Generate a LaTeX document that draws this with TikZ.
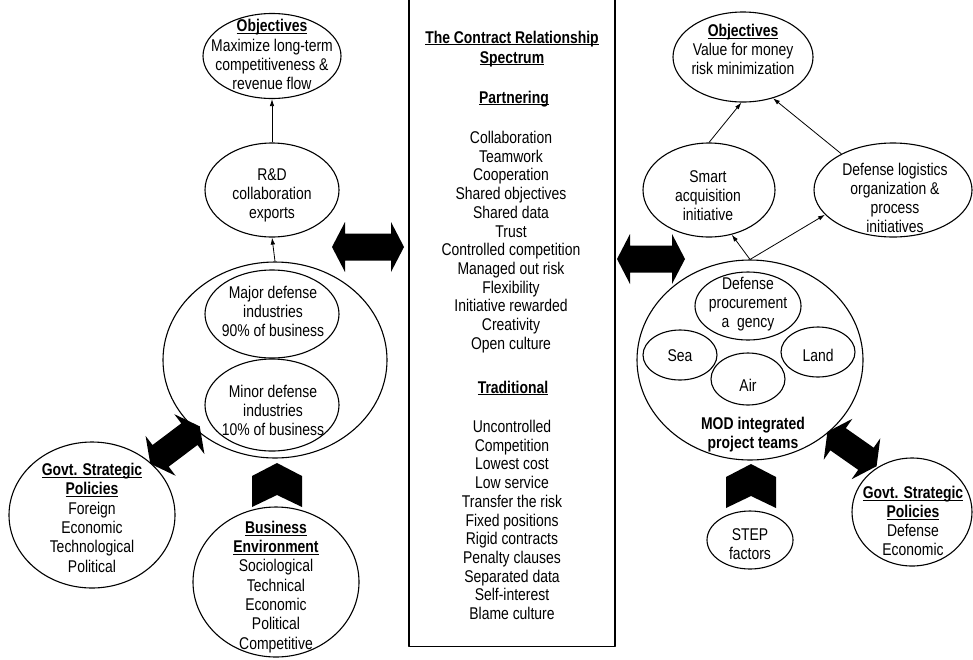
\documentclass[tikz,border=0pt]{standalone}
\usepackage{fontspec}
\setmainfont{Liberation Sans}[FakeStretch=0.82]
\usetikzlibrary{shapes.geometric,arrows.meta}
% bold, underlined heading inside the ellipses and the spectrum box
\newcommand\uhead[1]{\underline{\smash{\textbf{#1}}}}

\tikzset{
  ell/.style={draw, ellipse, inner sep=0pt, line width=1.1pt},
  txt/.style={align=center, inner sep=0pt, font={\fontsize{17}{19}\selectfont}},
  lst/.style={txt, font={\fontsize{17}{18.7}\selectfont}},
  wide/.style={txt, font={\fontsize{17}{19.3}\selectfont}},
  arr/.style={-{Latex[length=7pt,width=4.5pt]}, line width=0.8pt},
  % solid double-headed block arrow, #1 = half length
  pics/dblarrow/.style={code={
    \fill ({-#1},0) -- ({-#1+13},-25) -- ({-#1+13},-13.5) -- ({#1-13},-13.5)
      -- ({#1-13},-25) -- ({#1},0) -- ({#1-13},25) -- ({#1-13},13.5)
      -- ({-#1+13},13.5) -- ({-#1+13},25) -- cycle;}},
  % solid upward chevron
  pics/chevup/.style={code={
    \fill (0,-22) -- (25,-9) -- (25,22) -- (0,10) -- (-25,22) -- (-25,-9) -- cycle;}}
}

\begin{document}
\begin{tikzpicture}[x=1pt, y=-1pt, line join=round]
\useasboundingbox (0,0) rectangle (973,659);

% ---------- centre: the contract relationship spectrum ----------
\node[draw, line width=1.5pt, minimum width=206pt, minimum height=670pt,
      inner sep=0pt, anchor=south west] (spec) at (408,647) {};
\node[txt, font={\fontsize{17}{20}\selectfont}] (spec-title) at (512,54)
  {\uhead{The Contract Relationship}\\\uhead{Spectrum}};
\node[txt] (spec-part) at (514,104) {\uhead{Partnering}};
\node[lst] (spec-plist) at (511,242) {Collaboration\\Teamwork\\Cooperation\\Shared objectives\\
  Shared data\\Trust\\Controlled competition\\Managed out risk\\Flexibility\\
  Initiative rewarded\\Creativity\\Open culture};
\node[txt] (spec-trad) at (513,394) {\uhead{Traditional}};
\node[lst] (spec-tlist) at (512,520) {Uncontrolled\\Competition\\Lowest cost\\Low service\\
  Transfer the risk\\Fixed positions\\Rigid contracts\\Penalty clauses\\
  Separated data\\Self-interest\\Blame culture};

% ---------- left side: industry ----------
\node[ell, minimum width=138pt, minimum height=85pt] (objL) at (272,56) {};
\node[wide] (objL-t) at (272,61)
  {\uhead{Objectives}\\Maximize long-term\\competitiveness \&\\revenue flow};

\node[ell, minimum width=134pt, minimum height=94pt] (rd) at (272,190) {};
\node[txt] (rd-t) at (272,195) {R\&D\\collaboration\\exports};

\node[ell, minimum width=224pt, minimum height=196pt] (bigL) at (275,360) {};
\node[ell, minimum width=134pt, minimum height=88pt] (major) at (272,314) {};
\node[txt] (major-t) at (273,311) {Major defense\\industries\\90\% of business};
\node[ell, minimum width=134pt, minimum height=92pt] (minor) at (272,405) {};
\node[txt] (minor-t) at (273,410) {Minor defense\\industries\\10\% of business};

\node[ell, minimum width=166pt, minimum height=146pt] (govtL) at (92,515) {};
\node[wide] (govtL-t) at (92,524)
  {\uhead{Govt. Strategic}\\\uhead{Policies}\\Foreign\\Economic\\Technological\\Political};

\node[ell, minimum width=166pt, minimum height=150pt] (bus) at (276,582) {};
\node[wide] (bus-t) at (276,593)
  {\uhead{Business}\\\uhead{Environment}\\Sociological\\Technical\\Economic\\Political\\Competitive};

\draw[arr] (rd.north) -- (objL.south);
\draw[arr] (bigL.north) -- (rd.south);

\path (368,247) pic {dblarrow=36};
\path (175,445) pic[rotate=37] {dblarrow=31};
\path (277,485) pic {chevup};

% ---------- right side: ministry of defence ----------
\node[ell, minimum width=140pt, minimum height=90pt] (objR) at (743,57) {};
\node[txt] (objR-t) at (743,56) {\uhead{Objectives}\\Value for money\\risk minimization};

\node[ell, minimum width=132pt, minimum height=94pt] (smart) at (709,190) {};
\node[txt] (smart-t) at (708,196) {Smart\\acquisition\\initiative};

\node[ell, minimum width=158pt, minimum height=94pt] (defl) at (893,190) {};
\node[txt] (defl-t) at (895,198) {Defense logistics\\organization \&\\process\\initiatives};

\node[ell, minimum width=226pt, minimum height=200pt] (mod) at (750,360) {};
\node[ell, minimum width=106pt, minimum height=68pt] (dpa) at (748,306) {};
\node[txt] (dpa-t) at (748,304) {Defense\\procurement\\a\ \ gency};
\node[ell, minimum width=74pt, minimum height=50pt] (sea) at (680,355) {};
\node[txt] (sea-t) at (680,356) {Sea};
\node[ell, minimum width=74pt, minimum height=50pt] (land) at (818,352) {};
\node[txt] (land-t) at (818,355) {Land};
\node[ell, minimum width=74pt, minimum height=52pt] (air) at (748,379) {};
\node[txt] (air-t) at (748,385) {Air};
\node[txt] (mod-t) at (753,435) {\textbf{MOD integrated}\\\textbf{project teams}};

\node[ell, minimum width=86pt, minimum height=58pt] (step) at (750,540) {};
\node[txt] (step-t) at (750,544) {STEP\\factors};

\node[ell, minimum width=120pt, minimum height=108pt] (govtR) at (912,512) {};
\node[txt] (govtR-t) at (913,527) {\uhead{Govt. Strategic}\\\uhead{Policies}\\Defense\\Economic};

\draw[arr] (smart.north) -- (objR.-92);
\draw[arr] (defl.145) -- (objR.-54);
\draw[arr] (mod.north) -- (smart.-63);
\draw[arr] (mod.north) -- (defl.200);

\path (651,259) pic {dblarrow=34};
\path (852,449) pic[rotate=-35] {dblarrow=30};
\path (751,486) pic {chevup};
\end{tikzpicture}
\end{document}
